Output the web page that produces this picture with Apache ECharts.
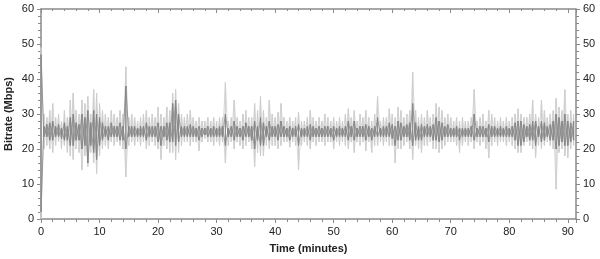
<!DOCTYPE html>
<html>
<head>
<meta charset="utf-8">
<script src="https://cdn.jsdelivr.net/npm/echarts@6/dist/echarts.min.js"></script>
<style>html,body{margin:0;padding:0;background:#fff}#c{width:600px;height:259px}</style>
</head>
<body>
<div id="c"></div>
<script>
// sampling step of the envelope readings (minutes)
const stepMinutes = 0.5;
const xTicks = [0, 10, 20, 30, 40, 50, 60, 70, 80, 90];
const yTicks = [0, 10, 20, 30, 40, 50, 60];

// outer (light) envelope: max and min bitrate per half minute
const outerHigh = [
 49,30,29,31,33,29,30,28,31,29,34,36,31,30,34,33,35,30,37,36,
 33,31,30,29,31,30,29,31,30,43.5,29,30,29,28,29,30,31,29,30,29,
 32,30,29,32,31,36,37,33,30,29,30,31,29,28,29,28,28,29,28,29,
 28,29,29,39,28,29,34,29,28,30,31,29,29,33,31,35,31,29,34,30,
 29,30.5,33,29,28,29,28,29,30.5,28,28,29,31,29,28,29,28,30,29,28,
 29,28,29,28,30,31.5,29,31,28,30,29,31,29,28,30,35,28,29,29,31.5,
 30,29,32,31,29,30,31,42,31,29,30,29,31,29,30,33,32,31,29,30,
 29,28,29,28,29,28,28,29,37,28,29,30,28,31,30,29,28,29,28,29,
 28,29,30,31.5,30,29,29,30,34,30,29,34,31,29,30,31,34.5,32,31,37,30,31,30
];
const outerLow = [
 0,20,21,20,19,21,22,20,21,19,18,17,20,19,14,18,15,19,16,13,
 18,20,21,20,22,21,22,21,20,12,21,22,21,22,21,22,20,21,22,21,
 20,17,21,20,19,19,17,19,21,22,22,21,22,22,19.5,22,23,22,22,21,
 22,21,22,16,21,22,20,22,21,20,21,22,20,15,19,18,18,21,20,21,
 21,20,21,22,22,20.5,22,21,14,21,22,21,20,22,21,22,22,21,22,22,
 20,22,21,22,21,20,22,19,22,21,22,19.5,22,19,21,21,22,21,22,21,
 21,16,20,20,21,22,20,17,21,20,19,21,21,22,20,20,19,20,21,22,
 22,22,21,19,21,22,21,22,20,22,21,22,20,17.5,21,22,21,22,22,21,
 22,21,20,19,19,21,22,21,20,17.5,21,20,21,22,21,20,8.5,19,20,18,17.5,20,21
];
// inner (dark) core band
const coreHigh = [
 47,26.5,27,27.5,28,26.5,27,26,27.5,26.5,29,30,27.5,27,30,29,31,27.5,31,30,
 29,27.5,26.5,26.5,27.5,26.5,26.5,27.5,26.5,38,26.5,26.5,26.5,26,26.5,26.5,27.5,26.5,26.5,26.5,
 27.5,26.5,26.5,27.5,27.5,33,34,30,26.5,26.5,26.5,27,26.5,26,26.5,26,26,26.5,26,26.5,
 26,26.5,26.5,30,26,26.5,28,26.5,26,26.5,27.5,26.5,26.5,28,26.5,29,27.5,26.5,28,26.5,
 26.5,27,28,26.5,26,26.5,26,26.5,27,26,26,26.5,27,26.5,26,26.5,26,26.5,26.5,26,
 26.5,26,26.5,26,26.5,28,26.5,28,26,26.5,26.5,27,26.5,26,26.5,29,26,26.5,26.5,27.5,
 27,26.5,28,27.5,26.5,27,27.5,33,27.5,26.5,27,26.5,27,26.5,27,29,28,27.5,26.5,27,
 26,26,26.5,26,26,26,26,26.5,30,26,26.5,26.5,26,27,26.5,26.5,26,26.5,26,26.5,
 26,26.5,27.5,28,28,27,26.5,27,28,28,26.5,28,27.5,26.5,27,28,30,29,28,30,28,27.5,28
];
const coreLow = [
 2,23.5,23.5,22.5,22.5,23.5,23.5,23,22.5,22.5,21,21,22.5,22.5,20,21,16,21,19,17,
 21,22.5,23.5,22.5,23.5,23.5,23.5,22.5,22.5,20,23.5,23.5,23.5,23.5,23.5,23.5,22.5,23.5,23.5,23.5,
 22,21,23.5,22.5,22,22,21,22,23.5,23.5,23.5,23.5,23.5,23.5,22.5,23.5,24,23.5,23.5,23.5,
 23.5,23.5,23.5,21,23.5,23.5,22.5,23.5,23.5,22.5,23.5,23.5,22.5,20,22.5,21,21,23.5,22.5,23.5,
 23.5,22.5,23.5,23.5,23.5,22.5,23.5,23.5,21,23.5,23.5,23.5,22.5,23.5,23.5,23.5,23.5,23.5,23.5,23.5,
 22.5,23.5,23.5,23.5,23.5,22.5,23.5,22.5,23.5,23.5,23.5,22.5,23.5,22.5,23.5,23.5,23.5,23.5,23.5,23.5,
 23,21,22.5,22.5,23.5,23.5,22.5,21,22.5,22.5,22.5,23.5,23.5,23.5,22.5,22.5,22,22.5,23.5,23.5,
 23.5,23.5,23.5,22.5,23.5,23.5,23.5,23.5,22.5,23.5,23.5,23.5,23.5,22,23.5,23.5,23.5,23.5,23.5,23.5,
 23.5,23.5,22.5,21,21,22,23.5,22.5,22.5,21,23.5,22,22.5,23.5,22.5,22.5,20,21,22,21,21,22,22.5
];

// one pass through the readings, visiting first/second value at each sample time
function zigzag(first, second) {
  const out = [];
  for (let i = 0; i < first.length; i++) {
    const t = i * stepMinutes;
    out.push([t, first[i]]);
    out.push([t, second[i]]);
  }
  return out;
}

const chart = echarts.init(document.getElementById('c'), null, {renderer: 'canvas'});
const font = 'Liberation Sans, Arial, sans-serif';
const axisCol = '#8a8a8a';
const txtCol = '#222';
function axisCommon(extra) {
  return Object.assign({
    type: 'value', interval: 10,
    axisLine: {show: true, onZero: false, lineStyle: {color: axisCol, width: 1.5}},
    splitLine: {show: false},
    minorTick: {show: true, splitNumber: 5, length: 3, lineStyle: {color: axisCol}},
    axisTick: {show: true, inside: false, length: 4, lineStyle: {color: axisCol}}
  }, extra);
}
const labelStyle = (ticks) => ({
  fontFamily: font, fontSize: 11, color: txtCol, margin: 7,
  formatter: v => ticks.includes(v) ? String(v) : ''
});
const nameStyle = {fontFamily: font, fontSize: 11, fontWeight: 'bold', color: txtCol};

function trace(first, second, color, z) {
  return {type: 'line', xAxisIndex: 0, yAxisIndex: 0, showSymbol: false, symbol: 'none',
    data: zigzag(first, second), lineStyle: {color: color, width: 0.8}, z: z, silent: true};
}

chart.setOption({
  animation: false,
  grid: {left: 41, right: 24, top: 9, bottom: 40, containLabel: false, outerBoundsMode: 'none'},
  xAxis: [
    axisCommon({
      min: 0, max: 91.4, position: 'bottom',
      name: 'Time (minutes)', nameLocation: 'middle', nameGap: 24, nameTextStyle: nameStyle,
      axisLabel: labelStyle(xTicks)
    }),
    axisCommon({
      min: 0, max: 91.4, position: 'top', axisLabel: {show: false},
      axisTick: {show: true, inside: true, length: 4, lineStyle: {color: axisCol}},
      minorTick: {show: true, splitNumber: 5, length: 2, lineStyle: {color: axisCol}}
    })
  ],
  yAxis: [
    axisCommon({
      min: 0, max: 60, position: 'left',
      name: 'Bitrate (Mbps)', nameLocation: 'middle', nameGap: 27, nameRotate: 90,
      nameMoveOverlap: false,
      nameTextStyle: nameStyle, axisLabel: labelStyle(yTicks)
    }),
    axisCommon({
      min: 0, max: 60, position: 'right', axisLabel: labelStyle(yTicks)
    })
  ],
  series: [
    trace(outerHigh, outerLow, '#cdcdcd', 2),
    trace(outerLow, outerHigh, '#cdcdcd', 2),
    trace(coreHigh, coreLow, '#858585', 3),
    trace(coreLow, coreHigh, '#858585', 3)
  ]
});
</script>
</body>
</html>
